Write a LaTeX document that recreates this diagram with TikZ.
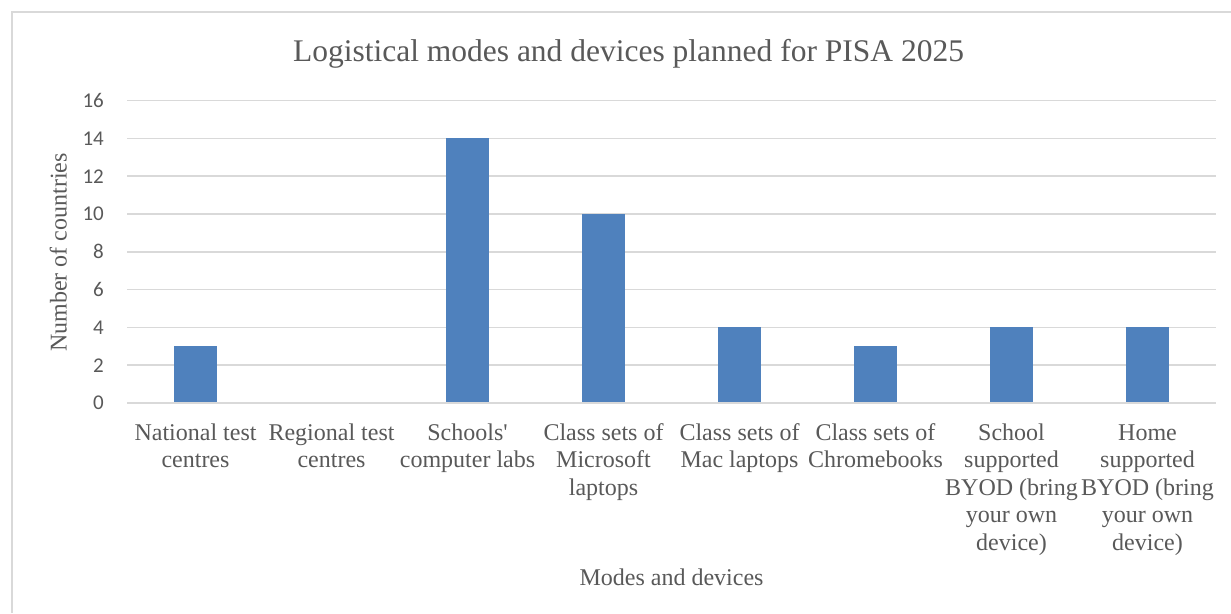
\documentclass[tikz,border=0pt]{standalone}
\usepackage{fontspec}
\setmainfont{Liberation Serif}
\newfontfamily\tickfont{Carlito}
\definecolor{txtgray}{HTML}{595959}
\definecolor{gridgray}{HTML}{D9D9D9}
\definecolor{barblue}{HTML}{4F81BD}
\begin{document}
\begin{tikzpicture}[x={(1pt,0pt)},y={(0pt,-1pt)},
  gridline/.style={draw=gridgray,line width=1.5pt},
  barbox/.style={fill=barblue,draw=none},
  ticklabel/.style={font=\tickfont\fontsize{21}{25}\selectfont,text=txtgray,anchor=east,inner sep=0pt},
  catlabel/.style={font=\fontsize{24}{27.5}\selectfont,text=txtgray,align=center,anchor=north,inner sep=0pt},
  axtitle/.style={font=\fontsize{24}{27.5}\selectfont,text=txtgray,inner sep=0pt,anchor=base},
  charttitle/.style={font=\fontsize{31.5}{36}\selectfont,text=txtgray,inner sep=0pt,anchor=base},
]
\useasboundingbox (0,0) rectangle (1231,613);
\fill[white] (0,0) rectangle (1231,613);
\draw[gridgray,line width=1.2pt] (12,613) -- (12,12) -- (1231,12);
\node[charttitle] (title) at (628.5,61) {Logistical modes and devices planned for PISA 2025};
\foreach \v in {0,2,...,16} {
  \pgfmathsetmacro\yy{403-18.9*\v}
  \draw[gridline] (127,\yy) -- (1216,\yy);
  \node[ticklabel] (tick\v) at (104,\yy) {\v};
}
\foreach \i/\v in {0/3,2/14,3/10,4/4,5/3,6/4,7/4} {
  \pgfmathsetmacro\xc{195.5+136*\i}
  \pgfmathsetmacro\yt{403-18.9*\v}
  \fill[barbox] (\xc-21.5,\yt) rectangle (\xc+21.5,402.3);
}
\foreach \i/\t in {0/{National test\\centres},
                   1/{Regional test\\centres},
                   2/{Schools\textquotesingle\\computer labs},
                   3/{Class sets of\\Microsoft\\laptops},
                   4/{Class sets of\\Mac laptops},
                   5/{Class sets of\\Chromebooks},
                   6/{School\\supported\\BYOD (bring\\your own\\device)},
                   7/{Home\\supported\\BYOD (bring\\your own\\device)}} {
  \pgfmathsetmacro\xc{195.5+136*\i}
  \node[catlabel] (cat\i) at (\xc,420.75) {\strut\t};
}
\node[axtitle,rotate=90] (ytitle) at (66.7,252.5) {Number of countries};
\node[axtitle] (xtitle) at (671.5,585) {Modes and devices};
\end{tikzpicture}
\end{document}
